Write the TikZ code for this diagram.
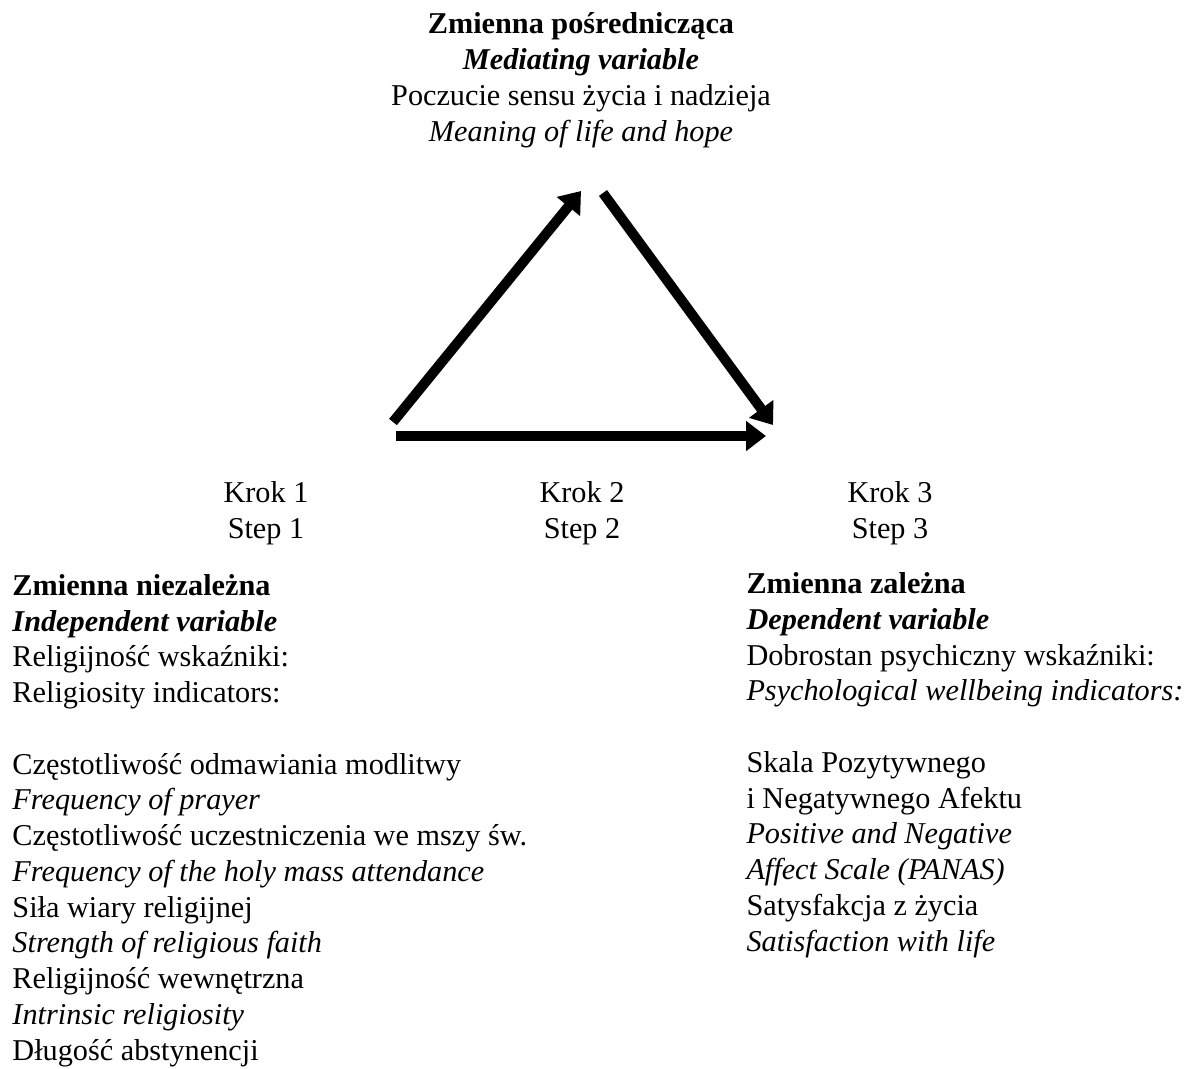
\documentclass[tikz,border=0pt]{standalone}
\usepackage{fontspec}
\setmainfont{Liberation Serif}
\usetikzlibrary{arrows.meta}

\begin{document}
\begin{tikzpicture}[x=0.4pt,y=-0.4pt]
	\tikzstyle{every node}=[inner sep=0pt,font=\fontsize{12.1}{14.3}\selectfont]
	\tikzstyle{block}=[anchor=base west,align=left]
	\tikzstyle{krok}=[anchor=base,align=center]
	\tikzstyle{link}=[line width=4pt,-{Triangle[length=8pt,width=11.6pt]}]
	
	\useasboundingbox (0,0) rectangle (1188,1068);
	
	% anchors sit on the last line of each node
	\node[krok] (med) at (581,141) {\textbf{Zmienna pośrednicząca}\\
		\textbf{\textit{Mediating variable}}\\
		Poczucie sensu życia i nadzieja\\
		\textit{Meaning of life and hope}};
	
	\node[krok] (k_1) at (266,538) {Krok 1\\ Step 1};
	\node[krok] (k_2) at (582,538) {Krok 2\\ Step 2};
	\node[krok] (k_3) at (890,538) {Krok 3\\ Step 3};
	
	\node[block] (indep) at (12,1060) {\textbf{Zmienna niezależna}\\
		\textbf{\textit{Independent variable}}\\
		Religijność wskaźniki:\\
		Religiosity indicators:\\[14.3pt]
		Częstotliwość odmawiania modlitwy\\
		\textit{Frequency of prayer}\\
		Częstotliwość uczestniczenia we mszy św.\\
		\textit{Frequency of the holy mass attendance}\\
		Siła wiary religijnej\\
		\textit{Strength of religious faith}\\
		Religijność wewnętrzna\\
		\textit{Intrinsic religiosity}\\
		Długość abstynencji};
	
	\node[block] (dep) at (746,951) {\textbf{Zmienna zależna}\\
		\textbf{\textit{Dependent variable}}\\
		Dobrostan psychiczny wskaźniki:\\
		\textit{Psychological wellbeing indicators:}\\[14.3pt]
		Skala Pozytywnego\\
		i Negatywnego Afektu\\
		\textit{Positive and Negative}\\
		\textit{Affect Scale (PANAS)}\\
		Satysfakcja z życia\\
		\textit{Satisfaction with life}};
	
	% arrow ends
	\coordinate (a_0) at (393,422);
	\coordinate (a_1) at (581,191);
	\coordinate (b_0) at (603,193);
	\coordinate (b_1) at (773,425);
	\coordinate (c_0) at (396,436);
	\coordinate (c_1) at (766,436);
	
	\path[link]
	(a_0) edge (a_1)
	(b_0) edge (b_1)
	(c_0) edge (c_1);
	
\end{tikzpicture}
\end{document}
